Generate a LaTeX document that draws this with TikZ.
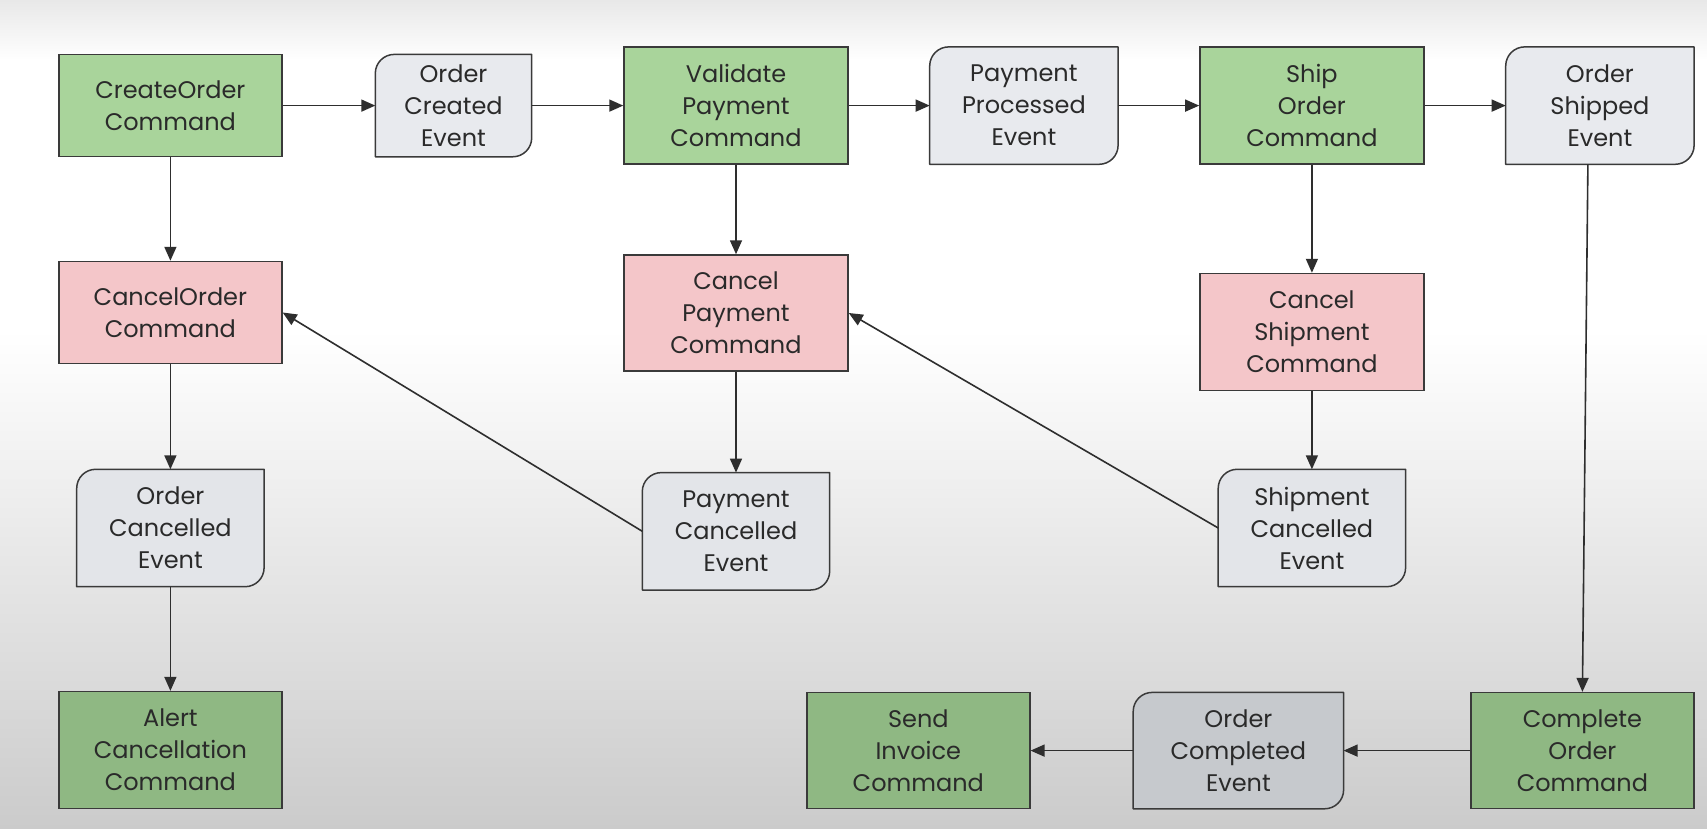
\documentclass[tikz,border=0pt]{standalone}
\usepackage{fontspec}
\setmainfont{Poppins}
\usetikzlibrary{arrows.meta,calc}
\pgfdeclarelayer{bgl}
\pgfdeclarelayer{shp}
\pgfsetlayers{bgl,shp,main}
\definecolor{linec}{HTML}{3A3A3A}
\definecolor{arrc}{HTML}{2E2E2E}
\definecolor{txtc}{HTML}{2A2A2A}
\definecolor{gtop}{HTML}{A9D49B}
\definecolor{gbot}{HTML}{8FB883}
\definecolor{pinkc}{HTML}{F4C6C9}
\definecolor{evtop}{HTML}{E8EAEE}
\definecolor{evmid}{HTML}{E3E5E9}
\definecolor{evbot}{HTML}{C6C9CD}
\definecolor{bgtop}{HTML}{E8E8E8}
\definecolor{bgbot}{HTML}{CBCBCB}
\newcommand\evshape[2]{%
  \begin{pgfonlayer}{shp}
  \filldraw[fill=#2, draw=linec, line width=1.5pt, line join=round]
    (#1.south west) -- ($(#1.north west)+(0pt,-19pt)$)
    .. controls ($(#1.north west)+(0pt,-8.5pt)$) and ($(#1.north west)+(8.5pt,0pt)$) .. ($(#1.north west)+(19pt,0pt)$)
    -- (#1.north east) -- ($(#1.south east)+(0pt,19pt)$)
    .. controls ($(#1.south east)+(0pt,8.5pt)$) and ($(#1.south east)+(-8.5pt,0pt)$) .. ($(#1.south east)+(-19pt,0pt)$)
    -- cycle;
  \end{pgfonlayer}}
\tikzset{
  boxtext/.style={align=center, font=\fontsize{24}{32}\selectfont, text=txtc, inner sep=0pt},
  cmdbox/.style={boxtext, rectangle, draw=linec, line width=1.5pt},
  evbox/.style={boxtext, rectangle},
  arr/.style={-{Triangle[length=14pt,width=12pt]}, line width=1.6pt, draw=arrc},
}
\begin{document}
\begin{tikzpicture}[x=1pt,y=-1pt]
\useasboundingbox (0,0) rectangle (1707,829);
\begin{pgfonlayer}{bgl}
  \fill[white] (0,0) rectangle (1707,829);
  \shade[top color=bgtop, bottom color=white] (0,0) rectangle (1707,60);
  \shade[top color=white, bottom color=bgbot] (0,330) rectangle (1707,829);
\end{pgfonlayer}

% row 1
\node[cmdbox, fill=gtop, minimum width=223pt, minimum height=102pt] (co) at (170.4,105.6) {CreateOrder\\Command};
\node[evbox, minimum width=156pt, minimum height=102pt] (oce) at (453.5,105.6) {Order\\Created\\Event};
\node[cmdbox, fill=gtop, minimum width=224pt, minimum height=117pt] (vp) at (736,105.6) {Validate\\Payment\\Command};
\node[evbox, minimum width=188pt, minimum height=117pt] (ppe) at (1023.9,105.6) {Payment\\Processed\\Event};
\node[cmdbox, fill=gtop, minimum width=224pt, minimum height=117pt] (so) at (1311.9,105.6) {Ship\\Order\\Command};
\node[evbox, minimum width=188pt, minimum height=117pt] (ose) at (1599.9,105.6) {Order\\Shipped\\Event};

% row 2
\node[cmdbox, fill=pinkc, minimum width=223pt, minimum height=102pt] (cxo) at (170.4,312.5) {CancelOrder\\Command};
\node[cmdbox, fill=pinkc, minimum width=224pt, minimum height=116pt] (cxp) at (736,313) {Cancel\\Payment\\Command};
\node[cmdbox, fill=pinkc, minimum width=224pt, minimum height=117pt] (cxs) at (1311.9,332) {Cancel\\Shipment\\Command};

% row 3
\node[evbox, minimum width=187pt, minimum height=117pt] (oxe) at (170.4,528) {Order\\Cancelled\\Event};
\node[evbox, minimum width=187pt, minimum height=117pt] (pxe) at (736,531.3) {Payment\\Cancelled\\Event};
\node[evbox, minimum width=187pt, minimum height=117pt] (sxe) at (1311.9,528) {Shipment\\Cancelled\\Event};

% row 4
\node[cmdbox, fill=gbot, minimum width=223pt, minimum height=117pt] (alc) at (170.4,750.1) {Alert\\Cancellation\\Command};
\node[cmdbox, fill=gbot, minimum width=223pt, minimum height=116pt] (inv) at (918.3,750.6) {Send\\Invoice\\Command};
\node[evbox, minimum width=210pt, minimum height=116pt] (occ) at (1238.4,750.6) {Order\\Completed\\Event};
\node[cmdbox, fill=gbot, minimum width=223pt, minimum height=116pt] (cmp) at (1582.4,750.6) {Complete\\Order\\Command};

\evshape{oce}{evtop}
\evshape{ppe}{evtop}
\evshape{ose}{evtop}
\evshape{oxe}{evmid}
\evshape{pxe}{evmid}
\evshape{sxe}{evmid}
\evshape{occ}{evbot}

% connectors
\draw[arr] (co.east) -- (oce.west);
\draw[arr] (oce.east) -- (vp.west);
\draw[arr] (vp.east) -- (ppe.west);
\draw[arr] (ppe.east) -- (so.west);
\draw[arr] (so.east) -- (ose.west);
\draw[arr] (co.south) -- (cxo.north);
\draw[arr] (cxo.south) -- (oxe.north);
\draw[arr] (oxe.south) -- (alc.north);
\draw[arr] (vp.south) -- (cxp.north);
\draw[arr] (cxp.south) -- (pxe.north);
\draw[arr] (so.south) -- (cxs.north);
\draw[arr] (cxs.south) -- (sxe.north);
\draw[arr] (pxe.west) -- (cxo.east);
\draw[arr] (sxe.west) -- (cxp.east);
\draw[arr] ([xshift=-12pt]ose.south) -- (cmp.north);
\draw[arr] (cmp.west) -- (occ.east);
\draw[arr] (occ.west) -- (inv.east);
\end{tikzpicture}
\end{document}
